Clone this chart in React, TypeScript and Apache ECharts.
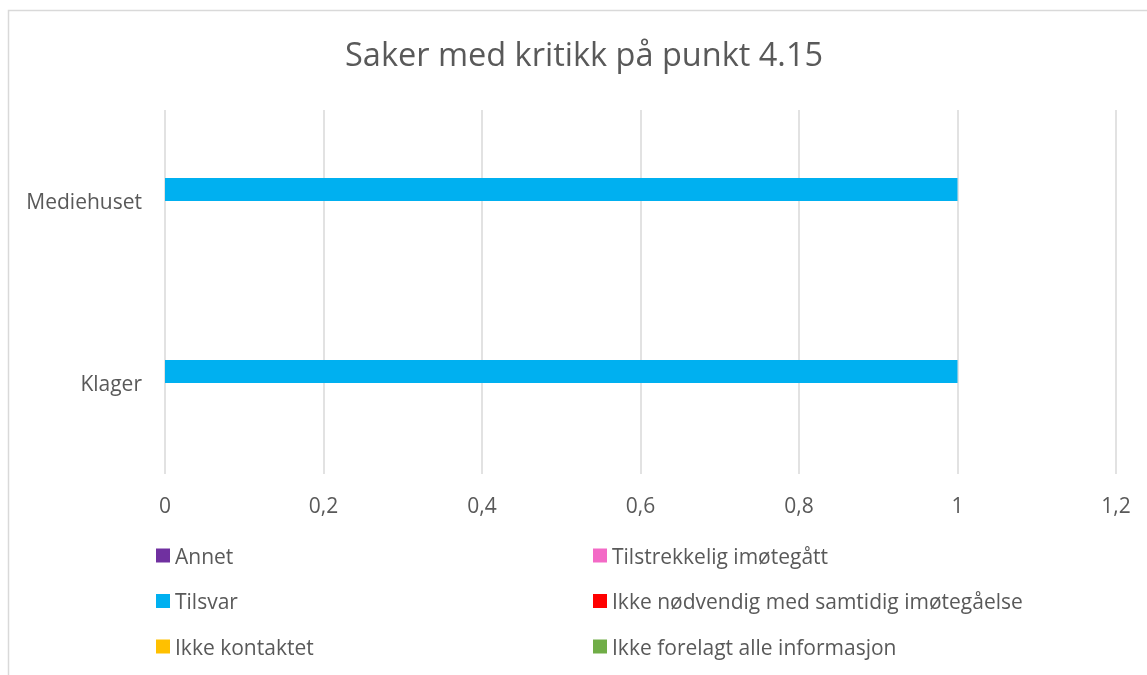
import React, { useEffect, useRef } from "react";
import * as echarts from "echarts";

const categories = ["Klager", "Mediehuset"];
const seriesNames = [
  "Annet",
  "Tilstrekkelig imøtegått",
  "Tilsvar",
  "Ikke nødvendig med samtidig imøtegåelse",
  "Ikke kontaktet",
  "Ikke forelagt alle informasjon",
];
const annet = [0, 0];
const tilstrekkelig = [0, 0];
const tilsvar = [1, 1];
const ikkeNodvendig = [0, 0];
const ikkeKontaktet = [0, 0];
const ikkeForelagt = [0, 0];
const seriesValues = [annet, tilstrekkelig, tilsvar, ikkeNodvendig, ikkeKontaktet, ikkeForelagt];
const colors = ["#7030A0", "#F36AC6", "#00B0F0", "#FF0000", "#FFC000", "#70AD47"];
const xTicks = { min: 0, max: 1.2, interval: 0.2 };

const FONT = "'Open Sans', 'DejaVu Sans', sans-serif";
const TXT = "#595959";

export default function App() {
  const ref = useRef<HTMLDivElement>(null);
  useEffect(() => {
    if (!ref.current) return;
    const chart = echarts.init(ref.current, undefined, { renderer: "svg" });
    const legendText = { color: TXT, fontSize: 21, fontFamily: FONT, lineHeight: 21 };
    chart.setOption({
      animation: false,
      textStyle: { fontFamily: FONT },
      title: {
        text: "Saker med kritikk på punkt 4.15",
        left: 345,
        top: 37,
        padding: 0,
        textStyle: { color: TXT, fontSize: 32.5, fontWeight: "normal", fontFamily: FONT },
      },
      graphic: [
        {
          type: "rect",
          silent: true,
          shape: { x: 8.5, y: 10.5, width: 1300, height: 800 },
          style: { fill: "none", stroke: "#d9d9d9", lineWidth: 1.5 },
        },
      ],
      legend: [
        {
          orient: "vertical",
          left: 156,
          top: 545,
          padding: 0,
          itemWidth: 14,
          itemHeight: 14,
          itemGap: 24.5,
          icon: "rect",
          selectedMode: false,
          data: [seriesNames[0], seriesNames[2], seriesNames[4]],
          textStyle: legendText,
        },
        {
          orient: "vertical",
          left: 593,
          top: 545,
          padding: 0,
          itemWidth: 14,
          itemHeight: 14,
          itemGap: 24.5,
          icon: "rect",
          selectedMode: false,
          data: [seriesNames[1], seriesNames[3], seriesNames[5]],
          textStyle: legendText,
        },
      ],
      grid: { left: 165, right: 31, top: 110, bottom: 201, containLabel: false },
      xAxis: {
        type: "value",
        min: xTicks.min,
        max: xTicks.max,
        interval: xTicks.interval,
        axisLine: { show: false },
        axisTick: { show: false },
        splitLine: { lineStyle: { color: "#d9d9d9", width: 1.5 } },
        axisLabel: {
          color: TXT,
          fontSize: 21,
          fontFamily: FONT,
          margin: 20,
          formatter: (v: number) => String(+v.toFixed(1)).replace(".", ","),
        },
      },
      yAxis: {
        type: "category",
        data: categories,
        axisLine: { show: false },
        axisTick: { show: false },
        axisLabel: { color: TXT, fontSize: 21, fontFamily: FONT, margin: 23 },
      },
      series: seriesNames.map((name, i) => ({
        name,
        type: "bar",
        data: seriesValues[i],
        barWidth: 23,
        barGap: "0%",
        itemStyle: { color: colors[i] },
      })),
    });
    return () => chart.dispose();
  }, []);
  return <div ref={ref} style={{ position: "fixed", left: 0, top: 0, width: 1147, height: 675 }} />;
}
